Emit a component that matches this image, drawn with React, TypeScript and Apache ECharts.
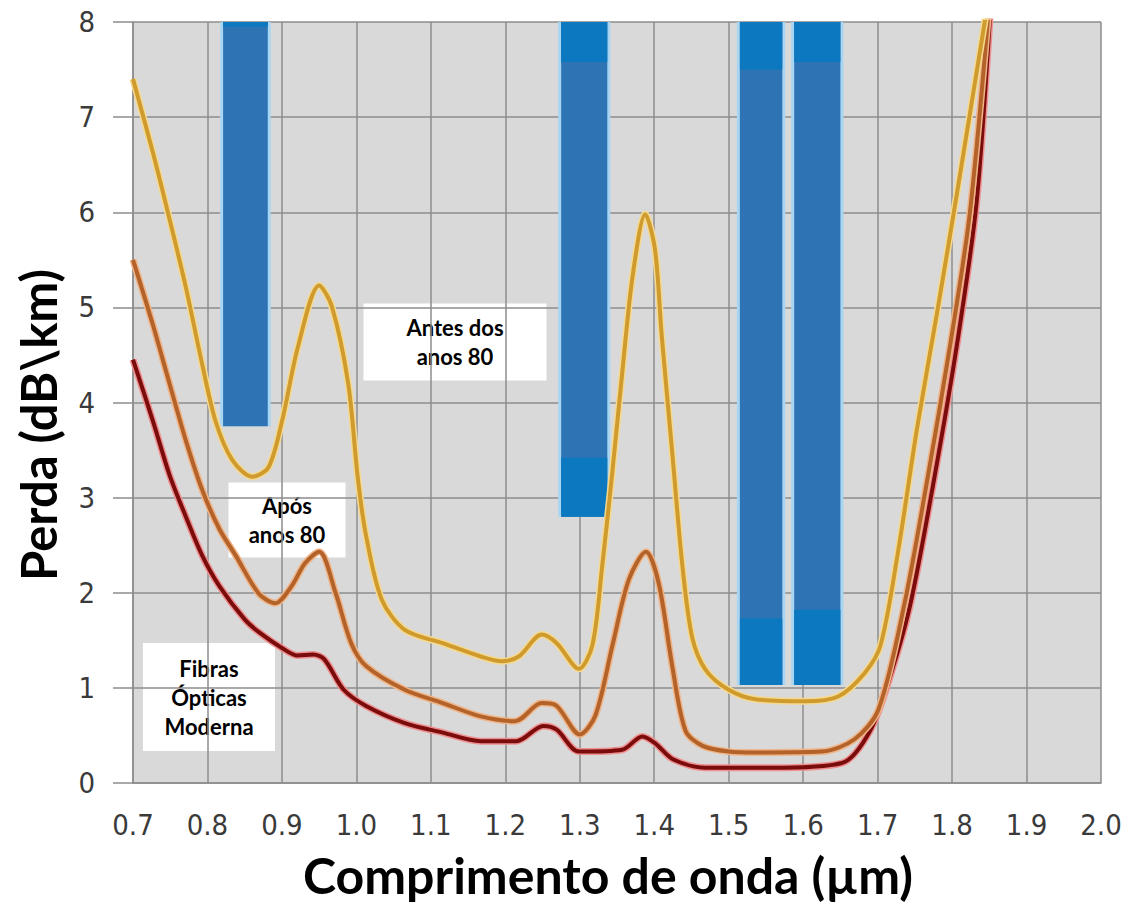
import React, { useEffect, useRef } from "react";
import * as echarts from "echarts";

// Loss curves: [wavelength (µm), loss (dB/km)]
const antes80: number[][] = [
  [0.70, 7.40], [0.727, 6.62], [0.749, 5.93], [0.771, 5.21], [0.793, 4.40], [0.811, 3.80],
  [0.833, 3.40], [0.860, 3.22], [0.882, 3.32], [0.900, 3.80], [0.922, 4.60], [0.950, 5.23],
  [0.967, 5.01], [0.989, 4.20], [1.002, 3.20], [1.013, 2.60], [1.034, 1.93], [1.065, 1.61],
  [1.116, 1.47], [1.167, 1.33], [1.195, 1.28], [1.218, 1.33], [1.249, 1.56], [1.269, 1.47],
  [1.299, 1.20], [1.317, 1.45], [1.330, 2.27], [1.344, 3.29], [1.357, 4.31], [1.371, 5.33],
  [1.388, 5.98], [1.401, 5.61], [1.410, 4.71], [1.424, 3.49], [1.438, 2.27], [1.451, 1.53],
  [1.469, 1.19], [1.500, 0.98], [1.536, 0.88], [1.603, 0.86], [1.647, 0.91], [1.683, 1.16],
  [1.704, 1.45], [1.727, 2.41], [1.753, 3.73], [1.780, 4.95], [1.807, 6.22], [1.848, 8.20],
];

const apos80: number[][] = [
  [0.70, 5.50], [0.727, 4.81], [0.749, 4.20], [0.771, 3.60], [0.793, 3.08], [0.816, 2.67],
  [0.838, 2.39], [0.869, 1.99], [0.891, 1.89], [0.913, 2.07], [0.931, 2.31], [0.950, 2.43],
  [0.972, 2.00], [0.993, 1.47], [1.013, 1.23], [1.065, 0.98], [1.116, 0.84], [1.167, 0.70],
  [1.213, 0.65], [1.249, 0.84], [1.269, 0.81], [1.300, 0.51], [1.321, 0.71], [1.344, 1.45],
  [1.366, 2.14], [1.389, 2.43], [1.406, 2.10], [1.424, 1.24], [1.442, 0.55], [1.465, 0.39],
  [1.500, 0.33], [1.536, 0.32], [1.625, 0.33], [1.669, 0.46], [1.701, 0.77], [1.736, 1.88],
  [1.767, 3.20], [1.798, 4.63], [1.824, 6.00], [1.850, 8.20],
];

const moderna: number[][] = [
  [0.70, 4.45], [0.727, 3.80], [0.749, 3.24], [0.771, 2.80], [0.793, 2.39], [0.816, 2.07],
  [0.850, 1.72], [0.870, 1.58], [0.900, 1.42], [0.921, 1.34], [0.942, 1.35], [0.957, 1.30],
  [0.983, 0.98], [1.013, 0.81], [1.065, 0.63], [1.116, 0.53], [1.167, 0.44], [1.215, 0.44],
  [1.251, 0.60], [1.269, 0.56], [1.299, 0.33], [1.357, 0.35], [1.384, 0.49], [1.401, 0.42],
  [1.425, 0.25], [1.469, 0.16], [1.558, 0.16], [1.652, 0.21], [1.690, 0.55], [1.718, 1.15],
  [1.744, 1.88], [1.776, 3.20], [1.807, 4.63], [1.833, 6.11], [1.852, 8.20],
];

// Transmission windows: [start µm, end µm, low loss, high loss]
const windows: number[][] = [
  [0.821, 0.881, 3.75, 8],
  [1.275, 1.337, 2.80, 8],
  [1.515, 1.572, 1.03, 8],
  [1.588, 1.650, 1.03, 8],
];
const windowDarkLow: number[] = [3.75, 3.42, 1.73, 1.82];
const windowDarkHigh: number[] = [7.95, 7.58, 7.50, 7.58];

const xLabelFont = "'Liberation Sans Narrow', 'DejaVu Sans Condensed', 'Liberation Sans', sans-serif";
const titleFont = "Lato, 'Open Sans', sans-serif";
const gridColor = "#8c8c8c";

function lineSeries(name: string, data: number[][], halo: string, color: string, z: number) {
  return [
    {
      name: name + "-halo",
      type: "line",
      data,
      smooth: 0.3,
      symbol: "none",
      clip: true,
      z,
      silent: true,
      lineStyle: { color: halo, width: 7 },
    },
    {
      name,
      type: "line",
      data,
      smooth: 0.3,
      symbol: "none",
      clip: true,
      z: z + 1,
      lineStyle: { color, width: 4 },
    },
  ];
}

function annotation(cx: number, cy: number, w: number, h: number, text: string) {
  return {
    type: "group",
    z: 100,
    children: [
      { type: "rect", shape: { x: cx - w / 2, y: cy - h / 2, width: w, height: h }, style: { fill: "#ffffff" } },
      {
        type: "text",
        x: cx,
        y: cy,
        style: {
          text,
          fill: "#000000",
          font: "bold 22px " + titleFont,
          align: "center",
          verticalAlign: "middle",
          lineHeight: 29,
        },
      },
    ],
  };
}

export default function App() {
  const ref = useRef<HTMLDivElement>(null);

  useEffect(() => {
    if (!ref.current) return;
    const chart = echarts.init(ref.current, undefined, { renderer: "svg" });

    const windowData = windows.map((w, i) => [w[0], w[1], w[2], w[3], windowDarkLow[i], windowDarkHigh[i]]);

    const option: any = {
      animation: false,
      backgroundColor: "#ffffff",
      grid: {
        left: 133,
        right: 31,
        top: 22,
        bottom: 121,
        show: true,
        backgroundColor: "#d9d9d9",
        borderWidth: 0,
      },
      xAxis: {
        type: "value",
        min: 0.7,
        max: 2.0,
        interval: 0.1,
        axisLine: { show: true, lineStyle: { color: gridColor, width: 1.5 } },
        axisTick: { show: false },
        axisLabel: {
          margin: 27,
          fontSize: 29,
          color: "#3a3a3a",
          fontFamily: xLabelFont,
          formatter: (v: number) => v.toFixed(1),
        },
        splitLine: { show: true, lineStyle: { color: gridColor, width: 1.5 } },
      },
      yAxis: {
        type: "value",
        min: 0,
        max: 8,
        interval: 1,
        axisLine: { show: true, lineStyle: { color: gridColor, width: 1.5 } },
        axisTick: { show: true, length: 20, lineStyle: { color: gridColor, width: 1.5 } },
        axisLabel: {
          margin: 38,
          fontSize: 29,
          color: "#3a3a3a",
          fontFamily: xLabelFont,
        },
        splitLine: { show: true, lineStyle: { color: gridColor, width: 1.5 } },
      },
      series: [
        {
          type: "custom",
          name: "janelas",
          z: 5,
          encode: { x: [0, 1], y: [2, 3] },
          data: windowData,
          renderItem: (params: any, api: any) => {
            const x0 = api.value(0);
            const x1 = api.value(1);
            const lo = api.value(2);
            const hi = api.value(3);
            const dLo = api.value(4);
            const dHi = api.value(5);
            const tl = api.coord([x0, hi]);
            const br = api.coord([x1, lo]);
            const dl = api.coord([x0, dLo]);
            const dh = api.coord([x0, dHi]);
            const w = br[0] - tl[0];
            const children: any[] = [
              {
                type: "rect",
                shape: { x: tl[0] - 3, y: tl[1], width: w + 6, height: br[1] - tl[1] },
                style: { fill: "#a8d6f2" },
              },
              {
                type: "rect",
                shape: { x: tl[0], y: tl[1], width: w, height: br[1] - tl[1] },
                style: { fill: "#2e74b5" },
              },
            ];
            if (dh[1] > tl[1] + 0.5) {
              children.push({
                type: "rect",
                shape: { x: tl[0], y: tl[1], width: w, height: dh[1] - tl[1] },
                style: { fill: "#0b78c0" },
              });
            }
            if (br[1] > dl[1] + 0.5) {
              children.push({
                type: "rect",
                shape: { x: tl[0], y: dl[1], width: w, height: br[1] - dl[1] },
                style: { fill: "#0b78c0" },
              });
            }
            return { type: "group", children };
          },
        },
        ...lineSeries("Fibras Ópticas Moderna", moderna, "#ef8f8f", "#7a0c0c", 10),
        ...lineSeries("Após anos 80", apos80, "#efb487", "#b3622a", 12),
        ...lineSeries("Antes dos anos 80", antes80, "#f6d98e", "#cf9b2e", 14),
      ],
      graphic: [
        annotation(455, 342, 183, 77, "Antes dos\nanos 80"),
        annotation(287, 520, 117, 75, "Após\nanos 80"),
        annotation(209, 697, 132, 108, "Fibras\nÓpticas\nModerna"),
        {
          type: "text",
          x: 608,
          y: 875,
          z: 100,
          style: {
            text: "Comprimento de onda (µm)",
            fill: "#000000",
            font: "bold 50px " + titleFont,
            align: "center",
            verticalAlign: "middle",
          },
        },
        {
          type: "text",
          x: 38,
          y: 425,
          rotation: Math.PI / 2,
          z: 100,
          style: {
            text: "Perda (dB\\km)",
            fill: "#000000",
            font: "bold 49px " + titleFont,
            align: "center",
            verticalAlign: "middle",
          },
        },
      ],
    };

    chart.setOption(option);
    return () => chart.dispose();
  }, []);

  return (
    <div
      ref={ref}
      style={{ position: "fixed", left: 0, top: 0, width: 1132, height: 904, background: "#ffffff" }}
    />
  );
}
